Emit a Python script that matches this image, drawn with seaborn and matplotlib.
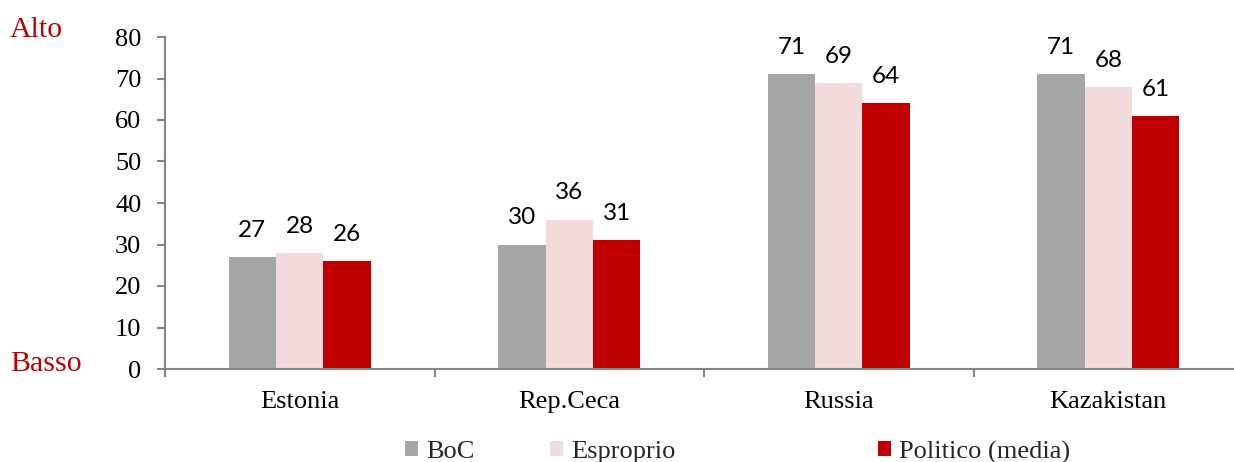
import matplotlib
matplotlib.use("Agg")
import matplotlib.pyplot as plt
from matplotlib.patches import Patch
import seaborn as sns
import pandas as pd

countries = ["Estonia", "Rep.Ceca", "Russia", "Kazakistan"]
series = ["BoC", "Esproprio", "Politico (media)"]
boc = [27, 30, 71, 71]
esproprio = [28, 36, 69, 68]
politico = [26, 31, 64, 61]
colors = ["#A6A6A6", "#F2DCDB", "#C00000"]
yticks = [0, 10, 20, 30, 40, 50, 60, 70, 80]

df = pd.DataFrame({
    "Paese": countries * 3,
    "Serie": [s for s in series for _ in countries],
    "Valore": boc + esproprio + politico,
})

sns.set_theme(style="white")
plt.rcParams["font.family"] = ["Liberation Serif", "DejaVu Serif"]

W, H = 1234, 462
fig = plt.figure(figsize=(W / 100, H / 100), dpi=100)
ax_left, ax_right = 165, 1243
ax_bottom, ax_top = 369, 37
ax = fig.add_axes([ax_left / W, (H - ax_bottom) / H,
                   (ax_right - ax_left) / W, (ax_bottom - ax_top) / H])

sns.barplot(data=df, x="Paese", y="Valore", hue="Serie", hue_order=series,
            palette=colors, width=0.527, gap=0, saturation=1,
            linewidth=0, ax=ax, legend=False)

spine_col = "#868686"
for side in ["top", "right"]:
    ax.spines[side].set_visible(False)
for side in ["left", "bottom"]:
    ax.spines[side].set_color(spine_col)
    ax.spines[side].set_linewidth(1.5)

ax.set_ylim(0, 80)
ax.set_yticks(yticks)
ax.set_xlim(-0.5, 3.5)
ax.set_xlabel("")
ax.set_ylabel("")
ax.tick_params(axis="y", direction="out", length=6, width=1.5, color=spine_col,
               labelsize=19, pad=11, left=True, labelcolor="black")
ax.tick_params(axis="x", which="major", length=0, labelsize=19, pad=16,
               labelcolor="black")
ax.set_xticks([-0.5, 0.5, 1.5, 2.5, 3.5], minor=True)
ax.tick_params(axis="x", which="minor", direction="out", length=6, width=1.5,
               color=spine_col, bottom=True)
ax.grid(False)

# value labels above each bar
for cont in ax.containers:
    for bar in cont:
        v = bar.get_height()
        ax.annotate(f"{v:.0f}", (bar.get_x() + bar.get_width() / 2, v),
                    xytext=(0, 14.5), textcoords="offset points",
                    ha="center", va="baseline", fontsize=17.5,
                    family=["Lato", "DejaVu Sans"], color="black")

# scale extremes
fig.text(10 / W, 1 - 30 / H, "Alto", color="#C00000", fontsize=21.5,
         ha="left", va="center")
fig.text(10 / W, 1 - 364 / H, "Basso", color="#C00000", fontsize=21.5,
         ha="left", va="center")

# legend entries placed individually
leg_x = [405, 550, 878]
for name, col, x in zip(series, colors, leg_x):
    lg = fig.legend(handles=[Patch(facecolor=col, edgecolor="none")],
                    labels=[name], loc="center left",
                    bbox_to_anchor=(x / W, 1 - 452 / H),
                    frameon=False, fontsize=19, handlelength=0.5,
                    handleheight=0.5, handletextpad=0.3, borderpad=0,
                    borderaxespad=0)

fig.savefig("out.png", dpi=100)
